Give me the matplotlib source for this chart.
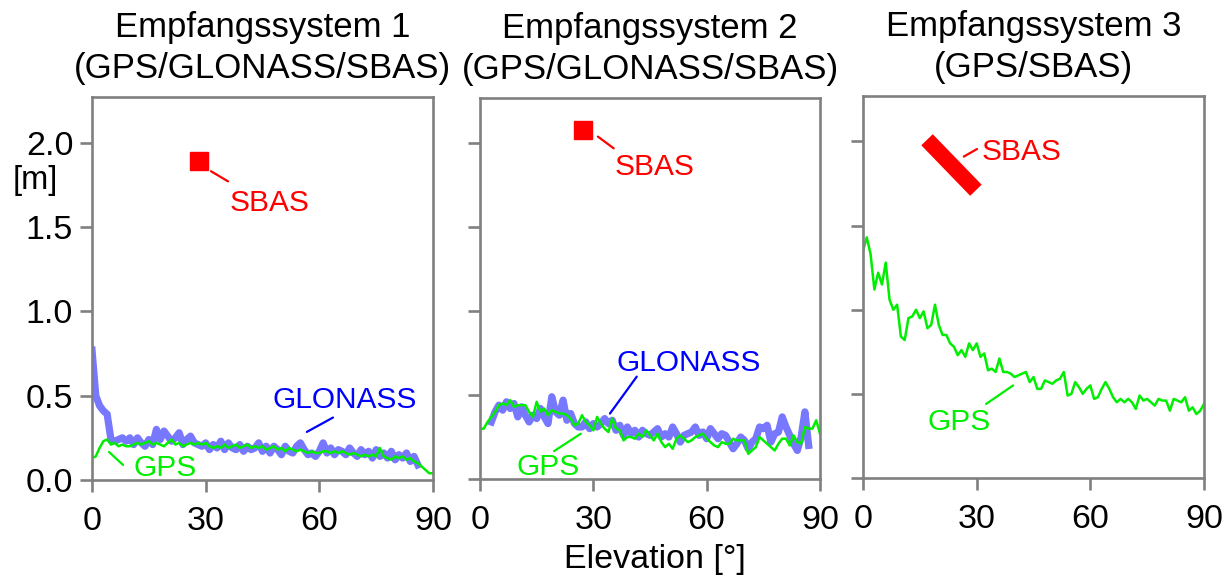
import numpy as np
import matplotlib
matplotlib.use("Agg")
import matplotlib.pyplot as plt

plt.rcParams['font.family'] = ['Liberation Sans', 'DejaVu Sans']

titles = ["Empfangssystem 1\n(GPS/GLONASS/SBAS)",
          "Empfangssystem 2\n(GPS/GLONASS/SBAS)",
          "Empfangssystem 3\n(GPS/SBAS)"]

# elevation in degrees, one value per degree
elev_gps = np.arange(0, 91)

# system 1
gps_1 = [0.13, 0.14, 0.19, 0.23, 0.24, 0.21, 0.22, 0.20, 0.21, 0.20,
         0.20, 0.21, 0.22, 0.21, 0.22, 0.23, 0.21, 0.22, 0.21, 0.20,
         0.22, 0.24, 0.21, 0.22, 0.20, 0.21, 0.22, 0.21, 0.22, 0.21,
         0.22, 0.20, 0.19, 0.20, 0.19, 0.21, 0.19, 0.20, 0.21, 0.19,
         0.20, 0.21, 0.19, 0.20, 0.19, 0.20, 0.18, 0.19, 0.20, 0.18,
         0.19, 0.17, 0.19, 0.18, 0.17, 0.18, 0.17, 0.16, 0.17, 0.16,
         0.16, 0.17, 0.17, 0.16, 0.17, 0.16, 0.17, 0.16, 0.15, 0.16,
         0.15, 0.14, 0.15, 0.14, 0.15, 0.14, 0.19, 0.14, 0.13, 0.12,
         0.14, 0.13, 0.14, 0.12, 0.13, 0.11, 0.10, 0.08, 0.06, 0.04,
         0.04]
elev_glo_1 = np.arange(0, 87)
glo_1 = [0.77, 0.50, 0.44, 0.41, 0.39, 0.24, 0.23, 0.24, 0.25, 0.23,
         0.25, 0.21, 0.25, 0.22, 0.20, 0.24, 0.21, 0.30, 0.24, 0.29,
         0.26, 0.23, 0.25, 0.28, 0.21, 0.24, 0.26, 0.22, 0.21, 0.20,
         0.22, 0.18, 0.21, 0.19, 0.23, 0.18, 0.22, 0.19, 0.18, 0.21,
         0.17, 0.20, 0.18, 0.19, 0.22, 0.17, 0.20, 0.16, 0.20, 0.18,
         0.15, 0.20, 0.17, 0.16, 0.20, 0.22, 0.18, 0.15, 0.16, 0.14,
         0.17, 0.22, 0.16, 0.19, 0.15, 0.18, 0.17, 0.15, 0.19, 0.16,
         0.14, 0.18, 0.15, 0.17, 0.13, 0.18, 0.14, 0.16, 0.13, 0.17,
         0.12, 0.15, 0.13, 0.16, 0.11, 0.14, 0.09]
sbas_elev_1 = [28.2]
sbas_1 = [1.89]

# system 2
gps_2 = [0.30, 0.30, 0.34, 0.37, 0.40, 0.44, 0.45, 0.44, 0.47, 0.43,
         0.44, 0.44, 0.44, 0.40, 0.37, 0.46, 0.40, 0.42, 0.38, 0.41,
         0.40, 0.39, 0.39, 0.38, 0.36, 0.32, 0.33, 0.38, 0.34, 0.32,
         0.29, 0.37, 0.33, 0.30, 0.28, 0.36, 0.30, 0.29, 0.23, 0.25,
         0.25, 0.24, 0.27, 0.25, 0.29, 0.26, 0.23, 0.27, 0.22, 0.19,
         0.21, 0.18, 0.24, 0.26, 0.24, 0.22, 0.23, 0.25, 0.26, 0.27,
         0.24, 0.22, 0.20, 0.19, 0.22, 0.21, 0.21, 0.24, 0.23, 0.23,
         0.23, 0.15, 0.17, 0.19, 0.25, 0.23, 0.21, 0.19, 0.17, 0.21,
         0.24, 0.24, 0.20, 0.26, 0.22, 0.21, 0.31, 0.30, 0.30, 0.35,
         0.27]
elev_glo_2 = np.arange(3, 88)
glo_2 = [0.34, 0.40, 0.44, 0.41, 0.46, 0.42, 0.45,
         0.37, 0.43, 0.38, 0.34, 0.38, 0.36, 0.42, 0.37, 0.33, 0.49,
         0.40, 0.38, 0.47, 0.35, 0.39, 0.33, 0.31, 0.31, 0.34, 0.30,
         0.33, 0.31, 0.33, 0.36, 0.33, 0.35, 0.29, 0.32, 0.26, 0.31,
         0.27, 0.29, 0.25, 0.29, 0.27, 0.26, 0.28, 0.30, 0.25, 0.27,
         0.25, 0.31, 0.27, 0.22, 0.26, 0.27, 0.28, 0.31, 0.26, 0.28,
         0.24, 0.30, 0.27, 0.24, 0.27, 0.26, 0.22, 0.18, 0.21, 0.25,
         0.23, 0.18, 0.22, 0.24, 0.31, 0.30, 0.32, 0.22, 0.27, 0.28,
         0.37, 0.31, 0.26, 0.21, 0.17, 0.25, 0.40, 0.20]
sbas_elev_2 = [27.2]
sbas_2 = [2.08]

# system 3
gps_3 = [1.35, 1.43, 1.33, 1.12, 1.22, 1.15, 1.28, 1.06, 1.00, 1.03,
         0.84, 0.82, 0.95, 0.96, 1.00, 0.95, 0.99, 0.89, 0.91, 1.03,
         0.91, 0.85, 0.85, 0.80, 0.78, 0.73, 0.76, 0.72, 0.80, 0.76,
         0.80, 0.72, 0.74, 0.64, 0.65, 0.63, 0.71, 0.63, 0.63, 0.62,
         0.60, 0.61, 0.62, 0.63, 0.57, 0.60, 0.53, 0.53, 0.58, 0.57,
         0.56, 0.58, 0.59, 0.63, 0.49, 0.50, 0.57, 0.54, 0.50, 0.53,
         0.55, 0.47, 0.48, 0.53, 0.57, 0.53, 0.48, 0.45, 0.47, 0.45,
         0.47, 0.45, 0.41, 0.49, 0.46, 0.47, 0.45, 0.43, 0.47, 0.46,
         0.46, 0.40, 0.47, 0.46, 0.45, 0.48, 0.40, 0.42, 0.38, 0.40,
         0.44]
sbas_elev_3 = [16.9, 29.8]
sbas_3 = [2.01, 1.71]

GREY = '#808080'
GREEN = '#00ee00'
BLUE_LINE = '#7878ff'
BLUE = '#0000ff'
RED = '#ff0000'

fig = plt.figure(figsize=(12.3, 5.78), dpi=100)
W, H = 1230, 578
boxes = [(92, 433, 97, 480), (480, 820, 98, 479), (863, 1204, 96, 478)]
axes = []
for (l, r, t, b) in boxes:
    ax = fig.add_axes([l / W, (H - b) / H, (r - l) / W, (b - t) / H])
    axes.append(ax)

for i, ax in enumerate(axes):
    ax.set_xlim(0, 90)
    ax.set_ylim(0, 2.27)
    ax.set_xticks([0, 30, 60, 90])
    ax.set_yticks([0.0, 0.5, 1.0, 1.5, 2.0])
    for s in ax.spines.values():
        s.set_color(GREY)
        s.set_linewidth(1.9)
    ax.tick_params(direction='out', length=8.5, width=1.9, color=GREY,
                   labelsize=24.5, pad=5)
    ax.tick_params(axis='x', pad=10)
    if i == 0:
        ax.set_yticklabels(['0.0', '0.5', '1.0', '1.5', '2.0'])
    else:
        ax.set_yticklabels([])
    ax.set_title(titles[i], fontsize=25, pad=13.5, linespacing=1.33)

ax1, ax2, ax3 = axes

def leader(ax, x0, y0, x1, y1, color):
    ax.annotate('', xy=(x0, y0), xytext=(x1, y1),
                arrowprops=dict(arrowstyle='-', color=color, lw=1.6,
                                shrinkA=0, shrinkB=0))

# system 1
ax1.plot(elev_glo_1, glo_1, color=BLUE_LINE, lw=5.2)
ax1.plot(elev_gps, gps_1, color=GREEN, lw=1.8)
ax1.plot(sbas_elev_1, sbas_1, 's', color=RED, ms=13.5)
leader(ax1, 31.4, 1.83, 35.9, 1.77, RED)
ax1.text(36.2, 1.64, 'SBAS', color=RED, fontsize=21.5, va='center')
leader(ax1, 56.7, 0.285, 63.6, 0.37, BLUE)
ax1.text(47.6, 0.475, 'GLONASS', color=BLUE, fontsize=21.5, va='center')
leader(ax1, 4.5, 0.166, 8.2, 0.089, GREEN)
ax1.text(11.0, 0.07, 'GPS', color=GREEN, fontsize=21.5, va='center')
ax1.text(-0.167, 0.783, '[m]', transform=ax1.transAxes, fontsize=23.5,
         ha='center', va='center')

# system 2
ax2.plot(elev_glo_2, glo_2, color=BLUE_LINE, lw=5.2)
ax2.plot(elev_gps, gps_2, color=GREEN, lw=1.8)
ax2.plot(sbas_elev_2, sbas_2, 's', color=RED, ms=13.5)
leader(ax2, 31.2, 2.04, 35.4, 1.97, RED)
ax2.text(35.5, 1.86, 'SBAS', color=RED, fontsize=21.5, va='center')
leader(ax2, 34.4, 0.39, 41.5, 0.61, BLUE)
ax2.text(36.0, 0.69, 'GLONASS', color=BLUE, fontsize=21.5, va='center')
leader(ax2, 19.6, 0.166, 26.7, 0.27, GREEN)
ax2.text(9.6, 0.07, 'GPS', color=GREEN, fontsize=21.5, va='center')

# system 3
ax3.plot(elev_gps, gps_3, color=GREEN, lw=1.8)
ax3.plot(sbas_elev_3, sbas_3, color=RED, lw=11.5, solid_capstyle='butt')
leader(ax3, 26.6, 1.91, 30.1, 1.955, RED)
ax3.text(31.2, 1.94, 'SBAS', color=RED, fontsize=21.5, va='center')
leader(ax3, 32.5, 0.44, 39.6, 0.55, GREEN)
ax3.text(17.0, 0.33, 'GPS', color=GREEN, fontsize=21.5, va='center')

fig.text(655 / W, 0.018, 'Elevation [°]', fontsize=24.5, ha='center',
         va='baseline')

fig.savefig('out.png', dpi=100)
